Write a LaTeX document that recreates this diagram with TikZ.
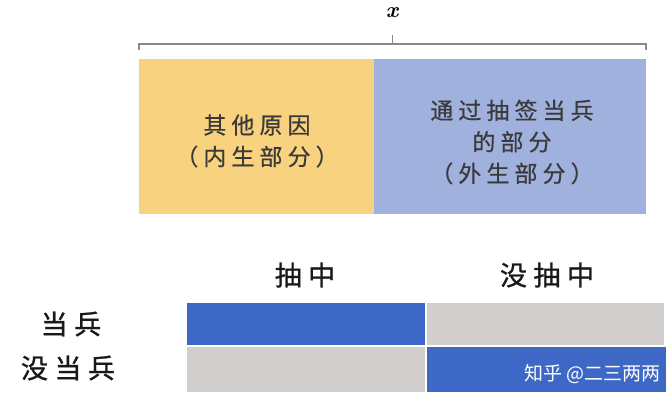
\documentclass[tikz,border=0pt]{standalone}
\usepackage{fontspec}
\newfontfamily\cjk[LetterSpace=22,FakeBold=0.5]{Noto Sans CJK SC}
\newfontfamily\cjkwide[LetterSpace=24,FakeBold=1]{Noto Sans CJK SC}
\newfontfamily\cjkplain{Noto Sans CJK SC}
\definecolor{boxyellow}{HTML}{F9D27F}
\definecolor{boxblue}{HTML}{A0B1DE}
\definecolor{cellblue}{HTML}{3D68C5}
\definecolor{cellgray}{HTML}{D1CFCE}
\definecolor{bracegray}{HTML}{8A8A8A}
\definecolor{toptext}{HTML}{3A3A3A}
\tikzset{
  bigbox/.style={draw=none, inner sep=0pt, minimum height=155pt},
  cell/.style={draw=none, inner sep=0pt},
  toplabel/.style={text=toptext, align=center, font=\cjk\fontsize{23}{31.5}\selectfont},
  gridlabel/.style={text=black!90, font=\cjkwide\fontsize{27}{30}\selectfont},
  bracepart/.style={draw=bracegray, line width=1.1pt},
}
\begin{document}
\begin{tikzpicture}[x=1pt,y=-1pt]
\useasboundingbox[fill=white] (0,0) rectangle (672,403);
% brace
\coordinate (bl) at (139,50);
\coordinate (blt) at (139,44);
\coordinate (brt) at (646,44);
\coordinate (br) at (646,50);
\coordinate (bm) at (392.5,44);
\coordinate (bmt) at (392.5,35);
\draw[bracepart] (bl) -- (blt) -- (brt) -- (br);
\draw[bracepart] (bm) -- (bmt);
\node[font=\fontsize{22}{24}\selectfont\bfseries\itshape] (xlab) at (392,13) {x};
% top boxes
\node[bigbox, fill=boxyellow, minimum width=235pt] (endo) at (256.5,136.5) {};
\node[bigbox, fill=boxblue, minimum width=272pt] (exo) at (510,136.5) {};
\node[toplabel] (endotext) at (257,141) {其他原因\\（内生部分）};
\node[toplabel] (exotext) at (512,142) {通过抽签当兵\\的部分\\（外生部分）};
% headers
\node[gridlabel] (hdrdraw) at (305,275) {抽中};
\node[gridlabel] (hdrnodraw) at (547,275) {没抽中};
\node[gridlabel] (rowserve) at (71,324) {当兵};
\node[gridlabel] (rownoserve) at (68,368) {没当兵};
% grid cells
\node[cell, fill=cellblue, minimum width=238pt, minimum height=42pt] (c11) at (306,324) {};
\node[cell, fill=cellgray, minimum width=237pt, minimum height=42pt] (c12) at (545.5,324) {};
\node[cell, fill=cellgray, minimum width=238pt, minimum height=45pt] (c21) at (306,369.5) {};
\node[cell, fill=cellblue, minimum width=239pt, minimum height=45pt] (c22) at (546.5,369.5) {};
\node[anchor=east, text=white, inner sep=0pt, font=\cjkplain\fontsize{19}{21}\selectfont] (wm) at (661,374) {知乎 @二三两两};
\end{tikzpicture}
\end{document}
